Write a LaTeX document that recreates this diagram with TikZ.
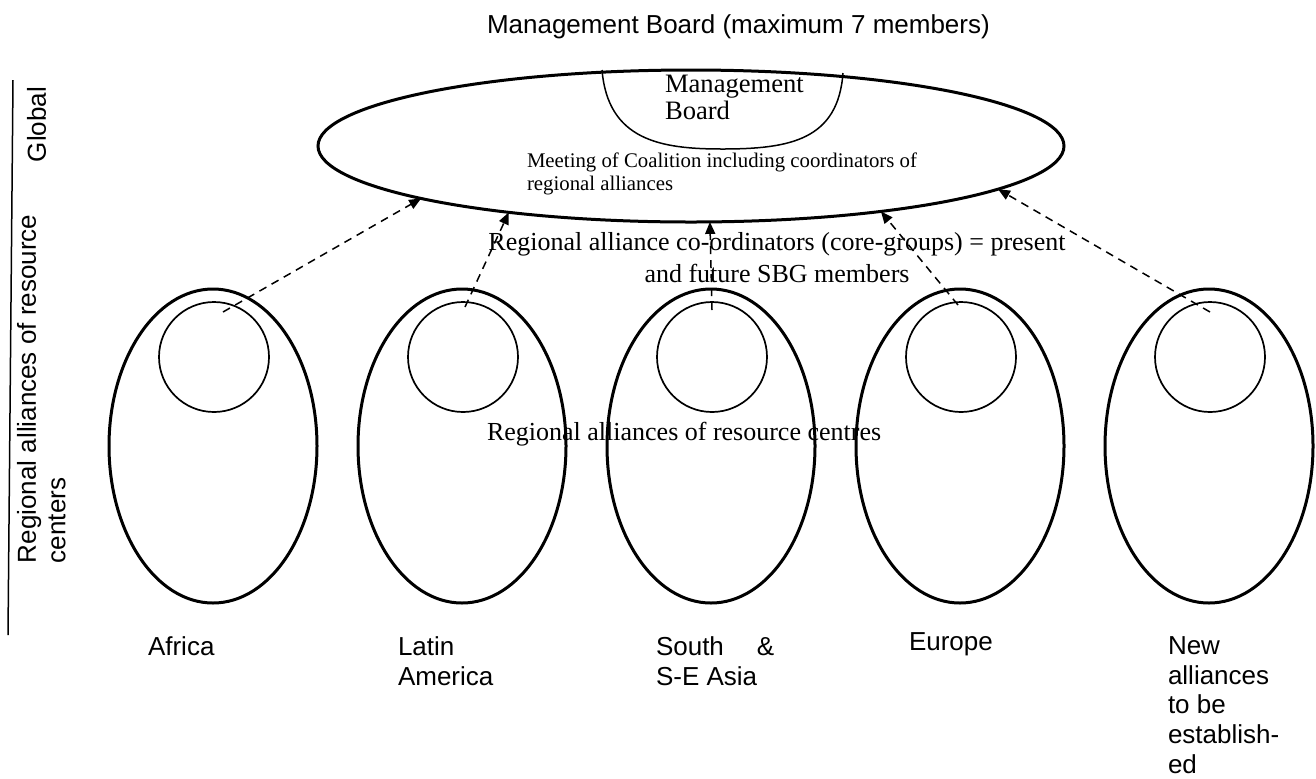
\documentclass[tikz,border=0pt]{standalone}
\usepackage{fontspec}
\setmainfont{Liberation Serif}
\setsansfont{Liberation Sans}
\usetikzlibrary{shapes.geometric,arrows.meta,calc,positioning}

\begin{document}
\begin{tikzpicture}[
            x=0.5pt, y=-0.5pt,
            every node/.style = {inner sep=0pt, outer sep=0pt},
                region/.style = {ellipse, draw, line width=1.5pt,% one regional alliance
                                 minimum width=104pt, minimum height=157pt},
                core/.style   = {circle, draw, line width=0.85pt,% its core group
                                 minimum size=55pt},
                lbl/.style    = {font=\sffamily\fontsize{13}{14.8}\selectfont,
                                 align=left, anchor=base west},
                txt/.style    = {font=\fontsize{13}{16}\selectfont},
                link/.style   = {dash pattern=on 4pt off 3pt, line width=0.75pt,
                                 -{Triangle[length=6pt,width=5pt]}},
                ]
\useasboundingbox (0,0) rectangle (1316,778);
% global level
\node[ellipse, draw, line width=1.5pt, minimum width=373pt, minimum height=76pt]
        (coal) at (691,146) {};
\draw[line width=0.75pt] (602,70) .. controls (608,140) and (660,149) .. (722,149)
                                   .. controls (790,149) and (838,140) .. (843,73);
\node[font=\fontsize{13.3}{13.5}\selectfont, align=left, anchor=base west]
        (mb) at (665,119) {Management\\Board};
\node[font=\fontsize{10.4}{11.5}\selectfont, align=left, anchor=base west]
        (meet) at (527,190) {Meeting of Coalition including coordinators of\\regional alliances};
\node[lbl] (title) at (487,33) {Management Board (maximum 7 members)};
% regional level
\foreach \i/\x/\dx/\dy/\a in {1/213/9/-45/191, 2/462/2/-50/200, 3/711/0/-47/284,
                              4/960/-3/-52/341, 5/1209/0/-45/352}
    {
    \node[region] (r\i) at (\x,446) {};
    \node[core] (c\i) at (\x+1,357) {};
    \coordinate (s\i) at ($(c\i.center)+(\dx,\dy)$);
    \draw[link] (s\i) -- (coal.\a);
    }
\node[txt, align=center, anchor=base] (coord) at (777,282)
        {Regional alliance co-ordinators (core-groups) = present\\and future SBG members};
\node[txt, anchor=base west] (ral) at (487,440) {Regional alliances of resource centres};
% names under the alliances (base = last line)
\node[lbl] (af) at (148,655) {Africa};
\node[lbl] (la) at (398,685) {Latin\\America};
\node[lbl] (sa) at (656,685) {South\hspace{16.5pt}\&\\S-E Asia};
\node[lbl] (eu) at (909,650) {Europe};
\node[lbl] (nw) at (1168,773) {New\\alliances\\to be\\establish-\\ed};
% levels on the left
\draw[line width=0.75pt] (13,80) -- (8,635);
\node[lbl, rotate=90, anchor=north west] (glob) at (27,162) {Global};
\node[lbl, rotate=90, anchor=north west] (lev) at (17,563)
        {Regional alliances of resource\\centers};
\end{tikzpicture}
\end{document}
